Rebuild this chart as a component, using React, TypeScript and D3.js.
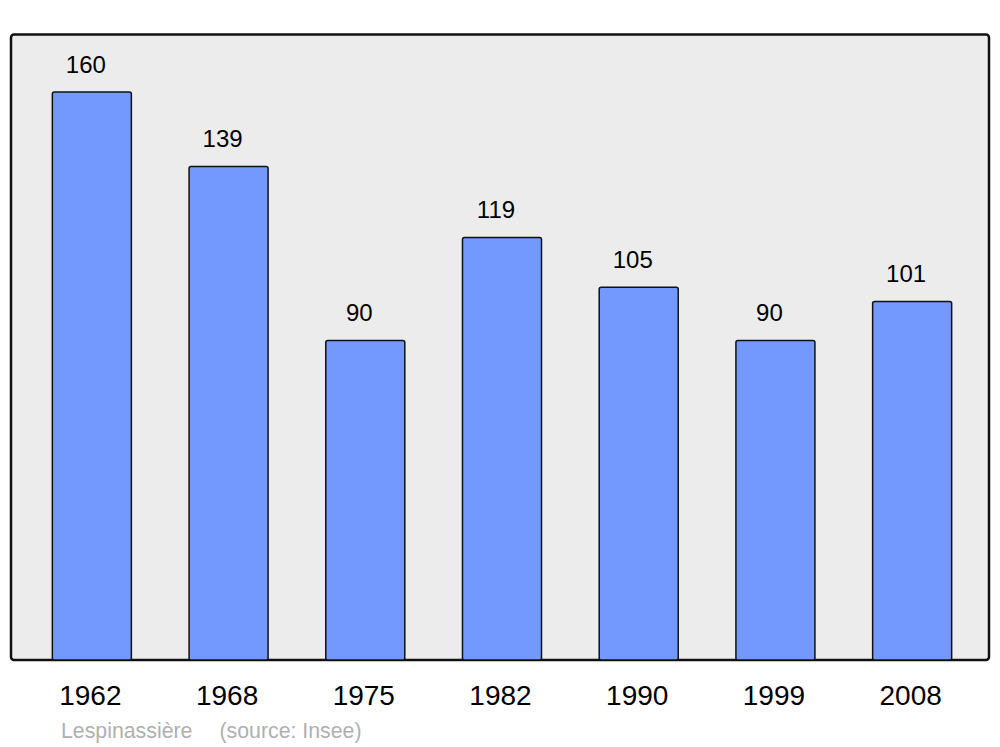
import React from "react";
import * as d3 from "d3";

const years = ["1962", "1968", "1975", "1982", "1990", "1999", "2008"];
const population = [160, 139, 90, 119, 105, 90, 101];
const footerName = "Lespinassière";
const footerSource = "(source: Insee)";

export default function App() {
  const W = 1000, H = 747;
  const panel = { x: 11, y: 34.5, w: 978, h: 625.5 };
  const x = d3.scaleBand<string>()
    .domain(years)
    .range([23.5, 980.5])
    .paddingInner(0.422)
    .paddingOuter(0.211);
  const y = d3.scaleLinear().domain([0, 176.2]).range([panel.y + panel.h, panel.y]);
  const bw = x.bandwidth();
  return (
    <svg width={W} height={H} style={{ position: "absolute", left: 0, top: 0 }}
      fontFamily="'Liberation Sans', Arial, sans-serif">
      <rect x={panel.x} y={panel.y} width={panel.w} height={panel.h} rx={3} ry={3}
        fill="#ececec" stroke="#111" strokeWidth={2.5} />
      {years.map((yr, i) => {
        const v = population[i];
        const bx = x(yr)!;
        const top = y(v);
        return (
          <g key={yr}>
            <rect x={bx} y={top} width={bw} height={y(0) - top} rx={2} ry={2}
              fill="#7399ff" stroke="#111" strokeWidth={1.5} />
            <text x={bx + bw / 2 - 6} y={top - 19.5} textAnchor="middle" fontSize={24} fill="#000">{v}</text>
            <text x={bx + bw / 2 - 1.5} y={705} textAnchor="middle" fontSize={28} fill="#000">{yr}</text>
          </g>
        );
      })}
      <text x={61} y={737.5} fontSize={21.3} fill="#b0b0b0">{footerName}</text>
      <text x={219.5} y={737.5} fontSize={21.3} fill="#b0b0b0">{footerSource}</text>
    </svg>
  );
}
